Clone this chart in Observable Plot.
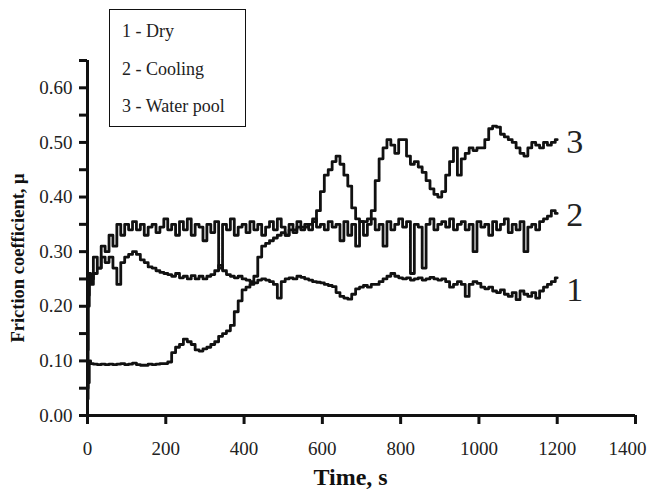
<!DOCTYPE html>
<html><head><meta charset="utf-8">
<script src="https://cdn.jsdelivr.net/npm/d3@7"></script>
<script src="https://cdn.jsdelivr.net/npm/@observablehq/plot@0.6"></script>
<style>
body{margin:0;background:#fff;}
#wrap{position:relative;width:652px;height:491px;font-family:"Liberation Serif","Times New Roman",serif;}
#legend{position:absolute;left:109px;top:9px;width:135px;height:116px;border:1.5px solid #111;background:#fff;}
#legend div{position:absolute;left:12px;font-size:18px;line-height:1;color:#222;white-space:nowrap;}
</style></head>
<body><div id="wrap"><div id="legend"></div></div>
<script>
const seriesNames = ["1 - Dry", "2 - Cooling", "3 - Water pool"];
const seriesTags = ["1", "2", "3"];
const times = [0, 3, 6, ...d3.range(10, 1210, 10)];
const dry = [0.12, 0.22, 0.26,
  0.25,0.26,0.27,0.29,0.28,0.29,0.27,0.24,0.28,0.29,
  0.295,0.30,0.295,0.285,0.28,0.272,0.27,0.265,0.262,0.26,
  0.258,0.255,0.26,0.252,0.255,0.25,0.256,0.25,0.255,0.25,
  0.255,0.258,0.265,0.275,0.265,0.258,0.255,0.252,0.255,0.25,
  0.248,0.245,0.243,0.248,0.25,0.248,0.245,0.24,0.215,0.245,
  0.25,0.252,0.25,0.255,0.253,0.25,0.248,0.245,0.244,0.243,
  0.24,0.238,0.236,0.225,0.218,0.215,0.213,0.222,0.232,0.235,
  0.238,0.235,0.24,0.24,0.245,0.25,0.255,0.26,0.255,0.252,
  0.25,0.252,0.248,0.25,0.252,0.248,0.25,0.253,0.25,0.248,
  0.25,0.245,0.235,0.24,0.245,0.24,0.218,0.24,0.245,0.242,
  0.235,0.232,0.235,0.228,0.225,0.23,0.222,0.218,0.225,0.212,
  0.228,0.222,0.218,0.225,0.215,0.228,0.235,0.24,0.245,0.252];
const cooling = [0.05, 0.20, 0.25,
  0.24,0.29,0.27,0.31,0.30,0.33,0.31,0.35,0.33,0.35,
  0.34,0.355,0.34,0.35,0.33,0.345,0.35,0.335,0.345,0.36,
  0.34,0.35,0.33,0.355,0.34,0.36,0.33,0.35,0.345,0.32,
  0.35,0.335,0.355,0.27,0.35,0.34,0.36,0.33,0.345,0.35,
  0.335,0.355,0.34,0.35,0.33,0.345,0.355,0.34,0.36,0.345,
  0.33,0.35,0.34,0.355,0.345,0.35,0.34,0.36,0.345,0.35,
  0.34,0.355,0.345,0.35,0.32,0.355,0.33,0.35,0.31,0.355,
  0.33,0.35,0.36,0.34,0.35,0.31,0.355,0.34,0.35,0.36,
  0.345,0.355,0.26,0.35,0.345,0.27,0.35,0.36,0.34,0.35,
  0.355,0.345,0.36,0.34,0.35,0.355,0.34,0.35,0.30,0.355,
  0.345,0.35,0.33,0.355,0.34,0.35,0.36,0.335,0.35,0.34,
  0.355,0.30,0.345,0.35,0.34,0.355,0.36,0.365,0.375,0.37];
const waterPool = [0.03, 0.06, 0.10,
  0.095,0.094,0.093,0.094,0.093,0.094,0.093,0.094,0.095,0.093,
  0.094,0.096,0.093,0.092,0.092,0.094,0.093,0.094,0.095,0.095,
  0.098,0.115,0.125,0.13,0.14,0.135,0.13,0.12,0.118,0.122,
  0.125,0.13,0.135,0.145,0.15,0.155,0.165,0.19,0.21,0.23,
  0.235,0.24,0.255,0.29,0.31,0.315,0.32,0.325,0.33,0.335,
  0.33,0.34,0.335,0.345,0.34,0.345,0.35,0.355,0.375,0.41,
  0.44,0.45,0.465,0.475,0.46,0.44,0.42,0.38,0.36,0.355,
  0.355,0.36,0.375,0.43,0.47,0.49,0.505,0.495,0.48,0.505,
  0.505,0.475,0.46,0.465,0.455,0.445,0.43,0.415,0.405,0.40,
  0.41,0.44,0.465,0.49,0.44,0.47,0.48,0.49,0.485,0.49,
  0.49,0.505,0.525,0.53,0.528,0.515,0.51,0.505,0.50,0.49,
  0.48,0.475,0.49,0.50,0.495,0.49,0.50,0.495,0.50,0.505];
const xTicks = [0, 200, 400, 600, 800, 1000, 1200, 1400];
const yTicks = [0,0.05,0.10,0.15,0.20,0.25,0.30,0.35,0.40,0.45,0.50,0.55,0.60,0.65];
const yLabelTicks = ["0.00","0.10","0.20","0.30","0.40","0.50","0.60"];

const seriesValues = [dry, cooling, waterPool];
const rows = [];
seriesValues.forEach((vals, s) => vals.forEach((v, i) => rows.push({series: seriesTags[s], t: times[i], v})));
const ends = seriesValues.map((vals, s) => ({tag: seriesTags[s], t: times[vals.length - 1], v: vals[vals.length - 1]}));
const tagDy = [12, 2, 2];
const lastX = xTicks[xTicks.length - 1];

const legend = document.getElementById("legend");
seriesNames.forEach((name, i) => {
  const d = document.createElement("div");
  d.textContent = name;
  d.style.top = (12.4 + 37.5 * i) + "px";
  legend.appendChild(d);
});

const chart = Plot.plot({
  width: 652, height: 491,
  marginLeft: 87, marginRight: 17, marginTop: 60, marginBottom: 76,
  style: {fontFamily: '"Liberation Serif","Times New Roman",serif', fontSize: "19px", color: "#222", background: "transparent"},
  x: {domain: [0, 1400]},
  y: {domain: [0, 0.65]},
  marks: [
    Plot.line(rows, {x: "t", y: "v", z: "series", stroke: "#111", strokeWidth: 2.8, curve: "step"}),
    Plot.axisX({ticks: xTicks, tickSize: 9, tickPadding: 17, label: null, strokeWidth: 3, stroke: "#111",
      tickFormat: d => d === lastX ? "" : String(d)}),
    Plot.axisX({ticks: [lastX], tickSize: 0, tickPadding: 26, dx: -8, label: null, tickFormat: d => String(d)}),
    Plot.axisY({ticks: yTicks, tickSize: 8, tickPadding: 7, label: null, strokeWidth: 3, stroke: "#111",
      tickFormat: d => { const s = d.toFixed(2); return yLabelTicks.includes(s) ? s : ""; }}),
    Plot.ruleY([0], {stroke: "#111", strokeWidth: 3}),
    Plot.ruleX([0], {stroke: "#111", strokeWidth: 3}),
    ...ends.map((e, i) => Plot.text([e], {x: "t", y: "v", text: "tag", dx: 9, dy: tagDy[i], textAnchor: "start", fontSize: 34, fill: "#222"})),
    Plot.text(["Time, s"], {frameAnchor: "bottom", dx: -11, dy: 62, lineAnchor: "middle", textAnchor: "middle", fontWeight: "bold", fontSize: 24, fill: "#111"}),
    Plot.text(["Friction coefficient, μ"], {frameAnchor: "left", rotate: -90, dx: -69, dy: 20, textAnchor: "middle", lineAnchor: "middle", fontWeight: "bold", fontSize: 18.5, fill: "#111"})
  ]
});
document.getElementById("wrap").insertBefore(chart, legend);
</script>
</body></html>
